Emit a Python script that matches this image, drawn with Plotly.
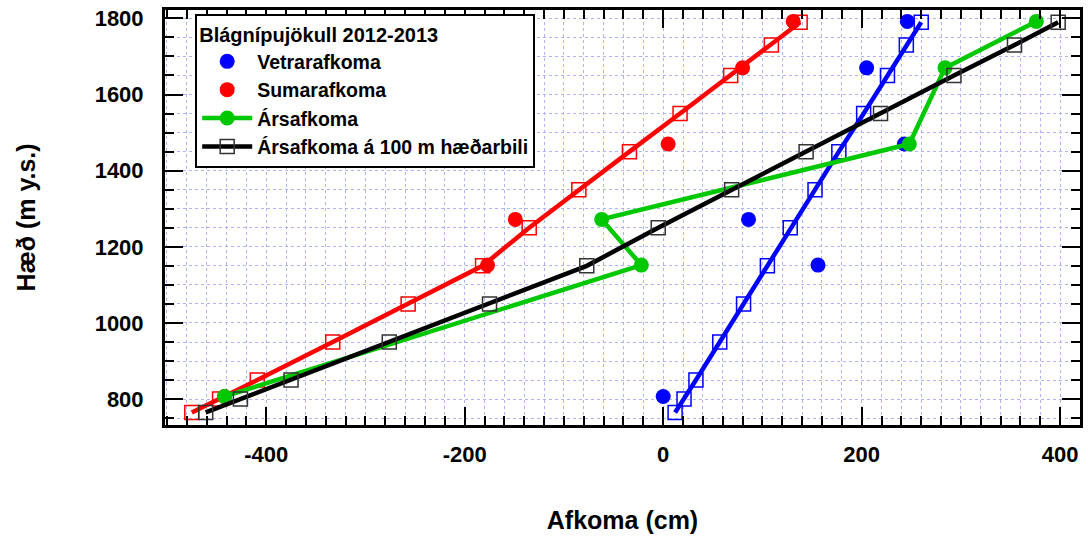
import plotly.graph_objects as go

# Stake measurements (elevation in m a.s.l., balance in cm w.e.)
stake_elev = [1792, 1670, 1470, 1272, 1152, 807]
winter_bal = [246, 205, 243, 86, 156, 0]
summer_bal = [131, 80, 5, -149, -177, -442]
annual_bal = [376, 284, 248, -62, -22, -442]

# Balance estimated for 100 m elevation bands
band_elev = [765, 800, 850, 950, 1050, 1150, 1250, 1350, 1450, 1550, 1650, 1730, 1790]
winter_band = [12, 21, 33, 57, 81, 105, 128, 153, 177, 202, 226, 245, 260]
summer_band = [-475, -447, -409, -333, -257, -182, -135, -85, -34, 17, 68, 109, 138]
annual_band = [-461, -426, -375, -276, -175, -77, -5, 69, 144, 219, 293, 354, 398]

# Axis tick labels (plain hyphen for negatives)
x_ticks = [-400, -200, 0, 200, 400]
x_ticktext = ["-400", "-200", "0", "200", "400"]
y_ticks = [800, 1000, 1200, 1400, 1600, 1800]
y_ticktext = ["800", "1000", "1200", "1400", "1600", "1800"]

RED = "#ff0000"
BLUE = "#0000ff"
GREEN = "#00c800"
BLACK = "#000000"
GRID = "#b2b2f6"
FONT = "Liberation Sans"

fig = go.Figure()

# band profiles drawn underneath the stake points
fig.add_trace(go.Scatter(
    x=summer_band, y=band_elev, mode="lines+markers", showlegend=False,
    line=dict(color=RED, width=4.5),
    marker=dict(symbol="square-open", size=14, color=RED, line=dict(width=1.5)),
))
fig.add_trace(go.Scatter(
    x=winter_band, y=band_elev, mode="lines+markers", showlegend=False,
    line=dict(color=BLUE, width=4.5),
    marker=dict(symbol="square-open", size=14, color=BLUE, line=dict(width=1.5)),
))
fig.add_trace(go.Scatter(
    x=winter_bal, y=stake_elev, mode="markers", name="Vetrarafkoma", legendrank=1,
    marker=dict(symbol="circle", size=15, color=BLUE),
))
fig.add_trace(go.Scatter(
    x=summer_bal, y=stake_elev, mode="markers", name="Sumarafkoma", legendrank=2,
    marker=dict(symbol="circle", size=15, color=RED),
))
fig.add_trace(go.Scatter(
    x=annual_bal, y=stake_elev, mode="lines+markers", name="Ársafkoma", legendrank=3,
    line=dict(color=GREEN, width=4.5),
    marker=dict(symbol="circle", size=15, color=GREEN),
))
fig.add_trace(go.Scatter(
    x=annual_band, y=band_elev, mode="lines+markers",
    name="Ársafkoma á 100 m hæðarbili", legendrank=4,
    line=dict(color=BLACK, width=4.5),
    marker=dict(symbol="square-open", size=14, color="#333333", line=dict(width=1.5)),
))

grid_style = dict(showgrid=True, gridcolor=GRID, gridwidth=1, griddash="3px,3px")

axis_common = dict(
    showline=True, linecolor="black", linewidth=3, mirror="allticks",
    ticks="inside", ticklen=18, tickwidth=2, tickcolor="black",
    zeroline=False,
    tickfont=dict(family=FONT, size=22, color="black", weight="bold"),
    **grid_style,
)

fig.update_xaxes(
    **axis_common,
    range=[-502, 420], tickmode="array", tickvals=x_ticks, ticktext=x_ticktext,
    minor=dict(dtick=20, tick0=0, ticks="inside", ticklen=9, tickwidth=2,
               tickcolor="black", **grid_style),
    ticklabelstandoff=8,
    title=dict(text="Afkoma (cm)", standoff=46,
               font=dict(family=FONT, size=25, color="black", weight="bold")),
)
fig.update_yaxes(
    **axis_common,
    range=[732, 1822], tickmode="array", tickvals=y_ticks, ticktext=y_ticktext,
    minor=dict(dtick=50, tick0=0, ticks="inside", ticklen=9, tickwidth=2,
               tickcolor="black", **grid_style),
    ticklabelstandoff=14,
    title=dict(text="Hæð (m y.s.)", standoff=52,
               font=dict(family=FONT, size=25, color="black", weight="bold")),
)

fig.update_layout(
    width=1088, height=539,
    margin=dict(l=165, r=8, t=10, b=114, autoexpand=False),
    paper_bgcolor="white", plot_bgcolor="white",
    font=dict(family=FONT, color="black"),
    legend=dict(
        x=0.033, y=0.99, xanchor="left", yanchor="top",
        bgcolor="white", bordercolor="black", borderwidth=2,
        title=dict(text="Blágnípujökull 2012-2013",
                   font=dict(family=FONT, size=20, color="black", weight="bold")),
        font=dict(family=FONT, size=19.5, color="black", weight="bold"),
        itemwidth=50, tracegroupgap=0,
    ),
)

fig.write_html("out.html")
